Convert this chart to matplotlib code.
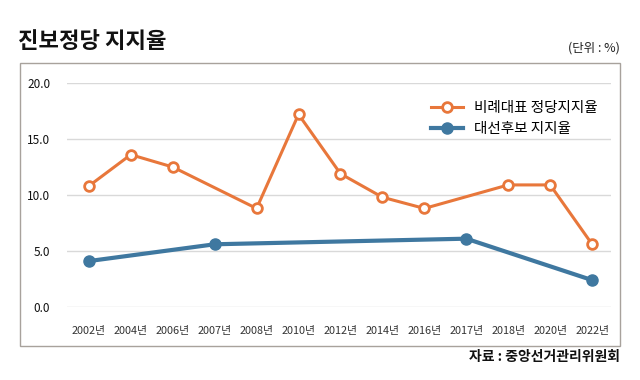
import numpy as np
import matplotlib.pyplot as plt
from matplotlib.patches import Rectangle

plt.rcParams['font.family'] = ['Noto Sans CJK KR', 'DejaVu Sans']

# data
years = ['2002년', '2004년', '2006년', '2007년', '2008년', '2010년', '2012년',
         '2014년', '2016년', '2017년', '2018년', '2020년', '2022년']
party_vote = [10.8, 13.6, 12.5, None, 8.8, 17.2, 11.9, 9.8, 8.8, None, 10.9, 10.9, 5.6]
candidate_vote = [4.1, None, None, 5.6, None, None, None, None, None, 6.1, None, None, 2.4]

orange = '#E8773B'
blue = '#3F78A0'

fig = plt.figure(figsize=(6.4, 3.8), dpi=100)

# outer frame
fig.patches.append(Rectangle((20 / 640, 1 - 346 / 380), 600 / 640, 283 / 380,
                             transform=fig.transFigure, fill=False,
                             edgecolor='#A8A29C', linewidth=1.0))

ax = fig.add_axes([67 / 640, 1 - 307 / 380, 544 / 640, 224 / 380])

x = np.arange(len(years))

def valid(vals):
    idx = [i for i, v in enumerate(vals) if v is not None]
    return x[idx], [vals[i] for i in idx]

px, py = valid(party_vote)
cx, cy = valid(candidate_vote)

ax.plot(px, py, color=orange, linewidth=2.2, marker='o', markersize=7,
        markerfacecolor='white', markeredgecolor=orange, markeredgewidth=2,
        clip_on=False, zorder=3, label='비례대표 정당지지율')
ax.plot(cx, cy, color=blue, linewidth=3, marker='o', markersize=8,
        markerfacecolor=blue, markeredgecolor=blue,
        clip_on=False, zorder=3, label='대선후보 지지율')

ax.set_ylim(0, 20)
ax.set_xlim(-0.52, 12.45)
ax.set_yticks([0, 5, 10, 15, 20])
ax.set_yticklabels([f'{v:.1f}' for v in [0, 5, 10, 15, 20]])
ax.set_xticks(x)
ax.set_xticklabels(years)
ax.tick_params(axis='y', length=0, pad=12, labelsize=8.5, labelcolor='#111111')
ax.tick_params(axis='x', length=0, pad=14, labelsize=7.8, labelcolor='#333333')
ax.grid(axis='y', color='#D9D9D9', linewidth=1)
ax.set_axisbelow(True)
for s in ax.spines.values():
    s.set_visible(False)

ax.legend(loc='upper right', bbox_to_anchor=(1.0, 0.98), frameon=False,
          fontsize=10.5, handlelength=2.2, labelspacing=0.5)

fig.text(18 / 640, 1 - 42 / 380, '진보정당 지지율', fontsize=16, fontweight='black',
         va='center', ha='left', color='#111111')
fig.text(620 / 640, 1 - 48 / 380, '(단위 : %)', fontsize=9, va='center',
         ha='right', color='#222222')
fig.text(620 / 640, 1 - 357 / 380, '자료 : 중앙선거관리위원회', fontsize=10,
         fontweight='bold', va='center', ha='right', color='#111111')

fig.savefig('out.png', dpi=100)
